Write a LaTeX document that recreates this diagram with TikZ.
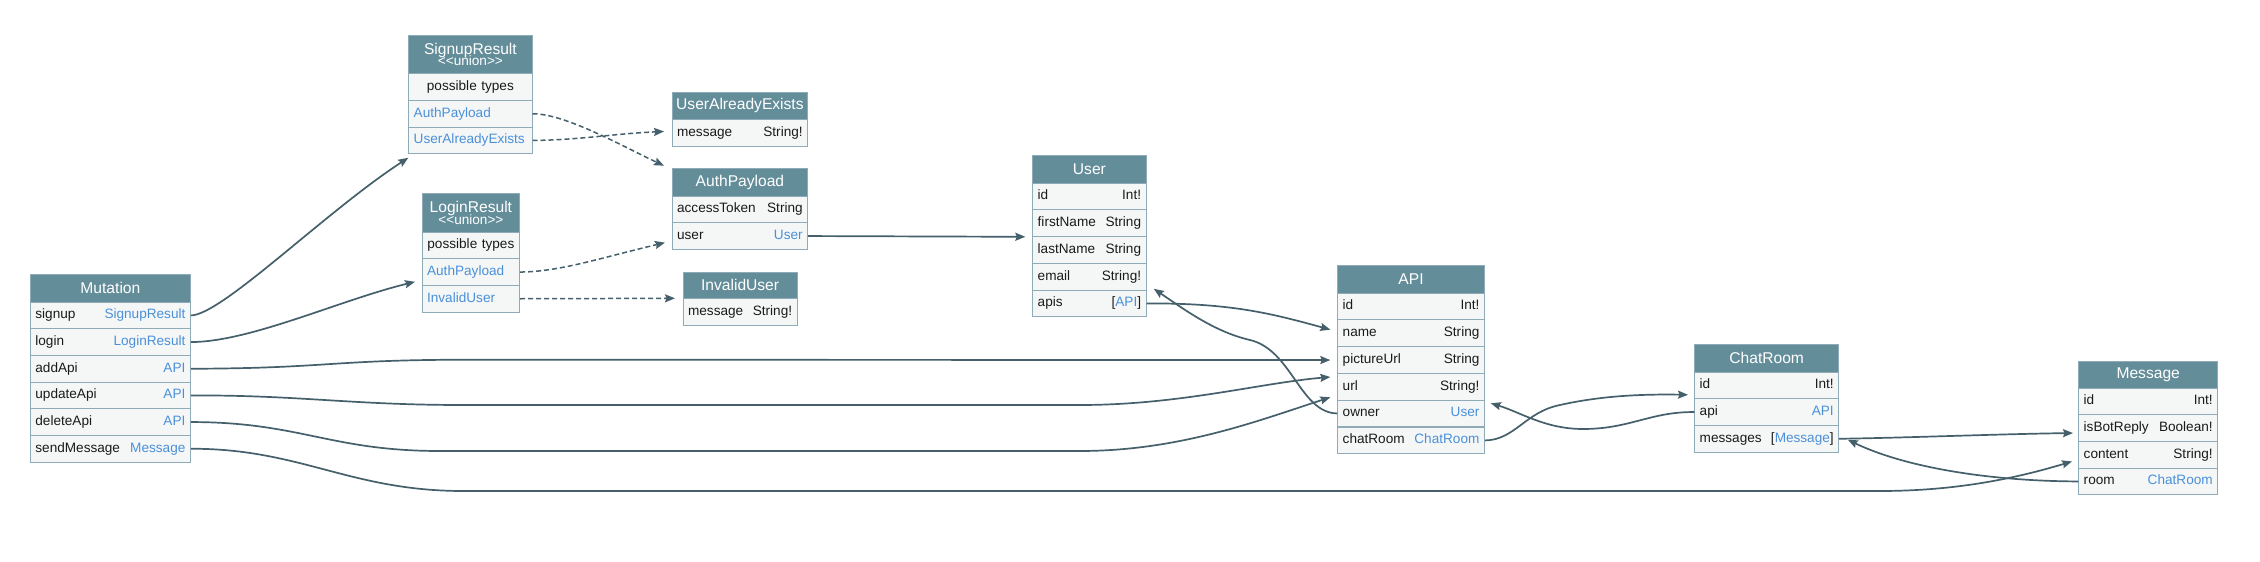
\documentclass[tikz,border=0pt]{standalone}
\usepackage{fontspec}
\setmainfont{Liberation Sans}
\usetikzlibrary{arrows.meta}
\definecolor{hdrc}{HTML}{648D9A}
\definecolor{rowc}{HTML}{F5F7F7}
\definecolor{brdc}{HTML}{8EABB7}
\definecolor{lnkc}{HTML}{4A90D9}
\definecolor{edgec}{HTML}{45606B}
\definecolor{txtc}{HTML}{1A1A1A}
\newcommand\lnk[1]{\textcolor{lnkc}{#1}}
\newcommand\rowfont{\fontsize{13.6}{16}\selectfont}
\newcommand\hdrfont{\fontsize{15.6}{15}\selectfont}
\newcommand\unionfont{\fontsize{13.6}{14}\selectfont}
\begin{document}
\begin{tikzpicture}[x=1pt,y=-1pt,
  hdr/.style={draw=brdc, fill=hdrc, text=white, font=\hdrfont, anchor=north west,
    minimum width=#1, minimum height=27.5pt, inner sep=0pt, align=center, line width=0.8pt},
  row/.style={draw=brdc, fill=rowc, text=txtc, font=\rowfont, anchor=north west,
    inner xsep=5pt, inner ysep=0pt, minimum height=26.7pt, text width=#1,
    text height=10pt, text depth=3pt, line width=0.8pt},
  ptrow/.style={row=#1, inner xsep=2pt, align=center},
  edge/.style={draw=edgec, line width=1.7pt, -{Stealth[length=10pt,width=8pt,inset=1.5pt]}},
  dedge/.style={edge, line width=1.5pt, dash pattern=on 5pt off 3pt}]
\path[use as bounding box, fill=white] (0,0) rectangle (2260,562);

% Mutation
\node[hdr=160pt, minimum height=27.7pt] (mut-hdr) at (30,274) {Mutation};
\node[row=150pt] (mut-signup) at (30,301.7) {signup\hfill\lnk{SignupResult}};
\node[row=150pt] (mut-login) at (30,328.3) {login\hfill\lnk{LoginResult}};
\node[row=150pt] (mut-add) at (30,355) {addApi\hfill\lnk{API}};
\node[row=150pt] (mut-upd) at (30,381.7) {updateApi\hfill\lnk{API}};
\node[row=150pt] (mut-del) at (30,408.3) {deleteApi\hfill\lnk{API}};
\node[row=150pt] (mut-send) at (30,435) {sendMessage\hfill\lnk{Message}};

% SignupResult
\node[hdr=123.4pt, minimum height=38.3pt] (sr-hdr) at (408.3,35)
  {SignupResult\\[-3.5pt]{\unionfont <\kern0pt<union>\kern0pt>}};
\node[ptrow=119.4pt] (sr-pt) at (408.3,73.3) {possible types};
\node[row=113.4pt] (sr-auth) at (408.3,100) {\lnk{AuthPayload}\hfill};
\node[row=113.4pt] (sr-uae) at (408.3,126.7) {\lnk{UserAlreadyExists}\hfill};

% UserAlreadyExists
\node[hdr=135.6pt, minimum height=27.3pt] (uae-hdr) at (671.7,91.7) {UserAlreadyExists};
\node[row=125.6pt] (uae-msg) at (671.7,119) {message\hfill String!};

% AuthPayload
\node[hdr=135.6pt, minimum height=27.4pt] (ap-hdr) at (671.7,168.3) {AuthPayload};
\node[row=125.6pt] (ap-tok) at (671.7,195.7) {accessToken\hfill String};
\node[row=125.6pt] (ap-user) at (671.7,222.3) {user\hfill\lnk{User}};

% LoginResult
\node[hdr=97.6pt, minimum height=38.4pt] (lr-hdr) at (421.7,193.3)
  {LoginResult\\[-3.5pt]{\unionfont <\kern0pt<union>\kern0pt>}};
\node[ptrow=93.6pt] (lr-pt) at (421.7,231.7) {possible types};
\node[row=87.6pt] (lr-auth) at (421.7,258.3) {\lnk{AuthPayload}\hfill};
\node[row=87.6pt] (lr-iu) at (421.7,285) {\lnk{InvalidUser}\hfill};

% InvalidUser
\node[hdr=114pt, minimum height=26.6pt] (iu-hdr) at (682.7,271.7) {InvalidUser};
\node[row=104pt] (iu-msg) at (682.7,298.3) {message\hfill String!};

% User
\node[hdr=113.4pt, minimum height=27.7pt] (user-hdr) at (1032.3,155) {User};
\node[row=103.4pt] (user-id) at (1032.3,182.7) {id\hfill Int!};
\node[row=103.4pt] (user-first) at (1032.3,209.3) {firstName\hfill String};
\node[row=103.4pt] (user-last) at (1032.3,236.3) {lastName\hfill String};
\node[row=103.4pt] (user-email) at (1032.3,263) {email\hfill String!};
\node[row=103.4pt] (user-apis) at (1032.3,289.7) {apis\hfill [\lnk{API}]};

% API
\node[hdr=146.7pt, minimum height=27.7pt] (api-hdr) at (1337.3,265) {API};
\node[row=136.7pt] (api-id) at (1337.3,292.7) {id\hfill Int!};
\node[row=136.7pt] (api-name) at (1337.3,319.3) {name\hfill String};
\node[row=136.7pt] (api-pic) at (1337.3,346.3) {pictureUrl\hfill String};
\node[row=136.7pt] (api-url) at (1337.3,373) {url\hfill String!};
\node[row=136.7pt] (api-owner) at (1337.3,399.7) {owner\hfill\lnk{User}};
\node[row=136.7pt] (api-chat) at (1337.3,426.7) {chatRoom\hfill\lnk{ChatRoom}};

% ChatRoom
\node[hdr=144pt, minimum height=27.4pt] (cr-hdr) at (1694.3,344.3) {ChatRoom};
\node[row=134pt] (cr-id) at (1694.3,371.7) {id\hfill Int!};
\node[row=134pt] (cr-api) at (1694.3,398.3) {api\hfill\lnk{API}};
\node[row=134pt] (cr-msg) at (1694.3,425) {messages\hfill [\lnk{Message}]};

% Message
\node[hdr=139pt, minimum height=27pt] (msg-hdr) at (2078.3,360.7) {Message};
\node[row=129pt] (msg-id) at (2078.3,387.7) {id\hfill Int!};
\node[row=129pt] (msg-bot) at (2078.3,414.3) {isBotReply\hfill Boolean!};
\node[row=129pt] (msg-content) at (2078.3,441) {content\hfill String!};
\node[row=129pt] (msg-room) at (2078.3,467.7) {room\hfill\lnk{ChatRoom}};

% Mutation edges
\draw[edge] (mut-signup.east) .. controls (222,315) and (325,212) .. ([yshift=-3.6pt]sr-uae.south west);
\draw[edge] (mut-login.east) .. controls (250,342) and (340,300) .. ([shift={(-6.7pt,4pt)}]lr-auth.south west);
\draw[edge] (mut-add.east) .. controls (330,368.3) and (330,359.7) .. (470,359.7) -- ([xshift=-7pt]api-pic.west);
\draw[edge] (mut-upd.east) .. controls (300,395) and (350,405) .. (463,405) -- (1080,405)
  .. controls (1180,405) and (1260,383) .. ([shift={(-7pt,-4pt)}]api-url.north west);
\draw[edge] (mut-del.east) .. controls (300,422) and (330,451) .. (440,451) -- (1080,451)
  .. controls (1180,451) and (1260,420) .. ([shift={(-7pt,3.2pt)}]api-url.south west);
\draw[edge] (mut-send.east) .. controls (300,448.4) and (350,491) .. (463,491) -- (1880,491)
  .. controls (1960,491) and (2020,477) .. ([shift={(-6.3pt,-6.7pt)}]msg-content.west);

% union edges
\draw[dedge] (sr-auth.east) .. controls (565,113.7) and (620,145) .. ([shift={(-7.7pt,2.6pt)}]ap-hdr.north west);
\draw[dedge] (sr-uae.east) .. controls (580,140) and (610,134) .. ([shift={(-7.7pt,1.3pt)}]uae-msg.west);
\draw[dedge] (lr-auth.east) .. controls (560,271.7) and (600,258) .. ([shift={(-6.7pt,-6.6pt)}]ap-user.west);
\draw[dedge] (lr-iu.east) -- ([xshift=-7.7pt]iu-msg.north west);

% other edges
\draw[edge] (ap-user.east) -- ([xshift=-7pt]user-first.south west);
\draw[edge] (user-apis.east) .. controls (1230,303) and (1270,313) .. ([shift={(-7pt,3.4pt)}]api-name.west);
\draw[edge] (api-owner.west) .. controls (1300,413) and (1292,350) .. (1250,340)
  .. controls (1215,332) and (1185,310) .. ([shift={(7.3pt,1.7pt)}]user-email.south east);
\draw[edge] (api-chat.east) .. controls (1515,440) and (1525,412) .. (1560,405)
  .. controls (1600,396) and (1640,394) .. ([shift={(-6.3pt,4.4pt)}]cr-id.south west);
\draw[edge] (cr-api.west) .. controls (1650,411.7) and (1630,429) .. (1583,429)
  .. controls (1545,429) and (1520,412) .. ([shift={(6pt,-3.6pt)}]api-owner.north east);
\draw[edge] (cr-msg.east) .. controls (1900,438) and (2000,434) .. ([shift={(-5.3pt,-5pt)}]msg-bot.west);
\draw[edge] (msg-room.west) .. controls (1980,481) and (1900,465) .. ([shift={(8.7pt,-1pt)}]cr-msg.east);
\end{tikzpicture}
\end{document}
